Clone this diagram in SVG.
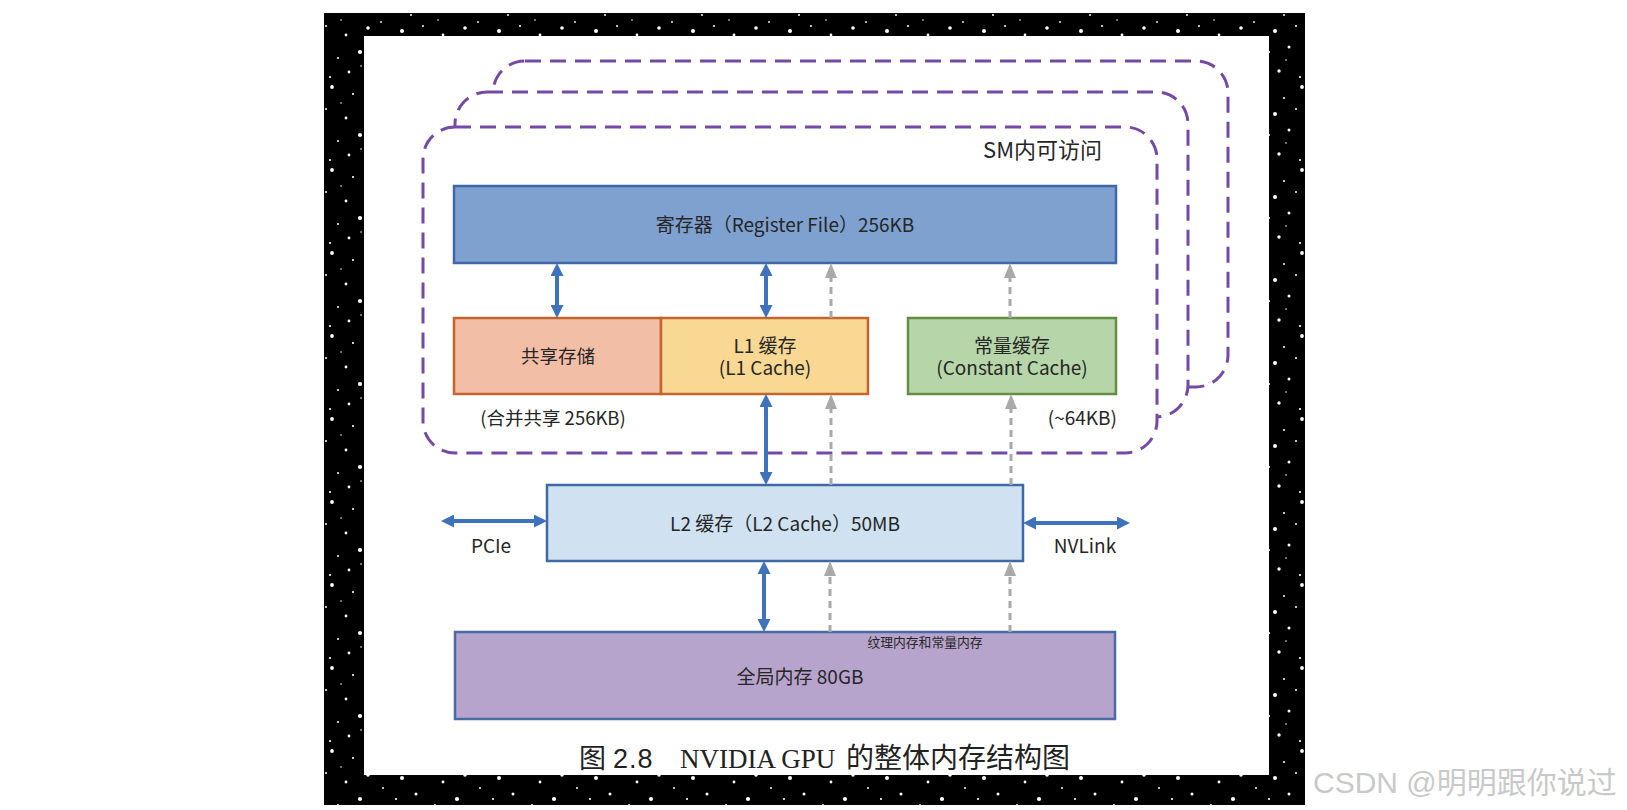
<svg xmlns="http://www.w3.org/2000/svg" width="1627" height="810" viewBox="0 0 1627 810">
<style>
.t{font-family:"Noto Sans CJK SC","Noto Sans",sans-serif;fill:#262626}
.box{stroke-width:2.5}
.sm{fill:#fff;stroke:#7549a6;stroke-width:3;stroke-dasharray:16 9}
.blue{stroke:#3f72bd;stroke-width:4;fill:none;marker-start:url(#hb);marker-end:url(#hb)}
.gray{stroke:#a9a9a9;stroke-width:3;fill:none;stroke-dasharray:7 5;marker-end:url(#hg)}
.cap{fill:#222}
</style>
<defs>
<pattern id="stars" width="97" height="83" patternUnits="userSpaceOnUse">
<rect width="97" height="83" fill="#000"/>
<g fill="#fff">
<circle cx="5" cy="7" r="1.5"/><circle cx="23" cy="15" r="1"/><circle cx="41" cy="4" r="1.9"/>
<circle cx="62" cy="11" r="1.1"/><circle cx="84" cy="6" r="1.4"/><circle cx="14" cy="31" r="2"/>
<circle cx="35" cy="26" r="1"/><circle cx="55" cy="35" r="1.4"/><circle cx="77" cy="28" r="1.8"/>
<circle cx="92" cy="41" r="1"/><circle cx="8" cy="52" r="1.1"/><circle cx="28" cy="47" r="1.5"/>
<circle cx="47" cy="58" r="1"/><circle cx="69" cy="52" r="2.1"/><circle cx="86" cy="63" r="1.2"/>
<circle cx="18" cy="71" r="1.7"/><circle cx="39" cy="77" r="1.1"/><circle cx="58" cy="72" r="1.4"/>
<circle cx="79" cy="79" r="1"/><circle cx="3" cy="80" r="0.9"/><circle cx="50" cy="20" r="0.8"/>
<circle cx="70" cy="66" r="0.8"/><circle cx="25" cy="60" r="0.8"/><circle cx="90" cy="22" r="0.9"/>
</g>
</pattern>
<marker id="hb" viewBox="0 0 13 13" refX="5" refY="6.5" markerWidth="13" markerHeight="13" markerUnits="userSpaceOnUse" orient="auto-start-reverse">
<path d="M0,0 L13,6.5 L0,13 z" fill="#3f72bd"/>
</marker>
<marker id="hg" viewBox="0 0 15 12" refX="6" refY="6" markerWidth="15" markerHeight="12" markerUnits="userSpaceOnUse" orient="auto">
<path d="M0,0 L15,6 L0,12 z" fill="#a9a9a9"/>
</marker>
</defs>
<rect width="1627" height="810" fill="#fff"/>
<rect x="324" y="13" width="981" height="792" fill="url(#stars)"/>
<rect x="364" y="36" width="905" height="739" fill="#fff"/>

<g id="sm-stack">
<rect class="sm" x="493" y="61" width="735" height="326" rx="32"/>
<rect class="sm" x="455" y="92" width="733" height="325" rx="32"/>
<rect class="sm" x="423" y="127" width="734" height="326" rx="32"/>
<text class="t" x="1102" y="158" font-size="22" text-anchor="end">SM内可访问</text>
</g>

<g id="register">
<rect class="box" x="454" y="186" width="662" height="77" fill="#7fa1d0" stroke="#3e69a6"/>
<text class="t" x="785" y="232" font-size="19" text-anchor="middle">寄存器（Register File）256KB</text>
</g>

<g id="shared">
<rect class="box" x="454" y="318" width="207" height="76" fill="#f3bea6" stroke="#c3652e"/>
<text class="t" x="558" y="363" font-size="18.5" text-anchor="middle">共享存储</text>
<text class="t" x="553" y="425" font-size="18.5" text-anchor="middle">(合并共享 256KB)</text>
</g>

<g id="l1">
<rect class="box" x="661" y="318" width="207" height="76" fill="#f9d894" stroke="#c3652e"/>
<text class="t" x="765" y="353" font-size="19" text-anchor="middle">L1 缓存</text>
<text class="t" x="765" y="375" font-size="19" text-anchor="middle">(L1 Cache)</text>
</g>

<g id="constant">
<rect class="box" x="908" y="318" width="208" height="76" fill="#b6d6a9" stroke="#628f44"/>
<text class="t" x="1012" y="353" font-size="19" text-anchor="middle">常量缓存</text>
<text class="t" x="1012" y="375" font-size="19" text-anchor="middle">(Constant Cache)</text>
<text class="t" x="1117" y="425" font-size="19" text-anchor="end">(~64KB)</text>
</g>

<g id="l2">
<rect class="box" x="547" y="485" width="476" height="76" fill="#d0e2f1" stroke="#3e69a6"/>
<text class="t" x="785" y="531" font-size="19" text-anchor="middle">L2 缓存（L2 Cache）50MB</text>
</g>

<g id="global">
<rect class="box" x="455" y="632" width="660" height="87" fill="#b7a4cc" stroke="#4a6aa5"/>
<text class="t" x="800" y="684" font-size="19" text-anchor="middle">全局内存 80GB</text>
<text class="t" x="925" y="647" font-size="12.8" text-anchor="middle">纹理内存和常量内存</text>
</g>

<g id="connectors">
<path class="blue" d="M557,271 V310"/>
<path class="blue" d="M766,271 V310"/>
<path class="blue" d="M766,402 V477"/>
<path class="blue" d="M764,569 V624"/>
<path class="blue" d="M449,521 H539"/>
<path class="blue" d="M1031,523 H1122"/>
<path class="gray" d="M831,318 V272"/>
<path class="gray" d="M1010,318 V272"/>
<path class="gray" d="M831,485 V403"/>
<path class="gray" d="M1011,485 V403"/>
<path class="gray" d="M830,632 V570"/>
<path class="gray" d="M1010,632 V570"/>
<text class="t" x="491" y="553" font-size="19" text-anchor="middle">PCIe</text>
<text class="t" x="1085" y="553" font-size="19" text-anchor="middle">NVLink</text>
</g>

<g id="caption">
<text class="cap" x="579" y="768" font-size="27" font-family="Noto Sans CJK SC, sans-serif">图</text>
<text class="cap" x="613" y="768" font-size="27" letter-spacing="1" font-family="Liberation Sans, sans-serif">2.8</text>
<text class="cap" x="680" y="768" font-size="27" font-family="Liberation Serif, serif">NVIDIA GPU</text>
<text class="cap" x="846" y="768" font-size="28" font-family="Noto Sans CJK SC, sans-serif">的整体内存结构图</text>
</g>

<text x="1313" y="793" font-size="30" fill="#c9c9c9" font-family="Liberation Sans, Noto Sans CJK SC, sans-serif">CSDN @明明跟你说过</text>
</svg>
